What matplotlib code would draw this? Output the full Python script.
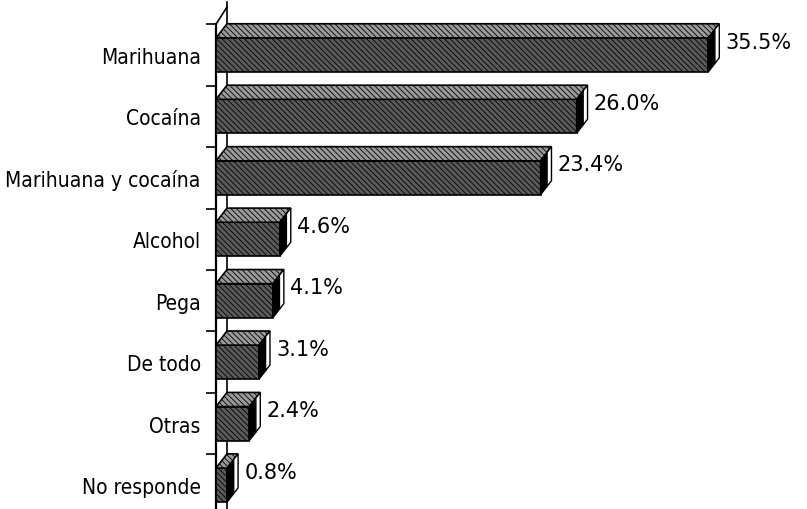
import matplotlib.pyplot as plt
from matplotlib.patches import Polygon
from matplotlib import font_manager

categories = ['Marihuana', 'Cocaína', 'Marihuana y cocaína', 'Alcohol',
              'Pega', 'De todo', 'Otras', 'No responde']
values = [35.5, 26.0, 23.4, 4.6, 4.1, 3.1, 2.4, 0.8]
value_labels = ['35.5%', '26.0%', '23.4%', '4.6%', '4.1%', '3.1%', '2.4%', '0.8%']

plt.rcParams['hatch.linewidth'] = 0.6
plt.rcParams['hatch.color'] = 'black'

# narrow font for the category labels, if one is installed
narrow = [f for f in font_manager.fontManager.ttflist
          if 'condensed' in str(f.stretch) or 'Narrow' in f.name or 'Condensed' in f.name]
if narrow:
    cat_font = dict(family=narrow[0].name, stretch=narrow[0].stretch, size=15)
else:
    cat_font = dict(family='Roboto', size=14)

fig = plt.figure(figsize=(8.07, 5.10), dpi=100)
ax = fig.add_axes([0.2677, 0.0, 0.72, 1.0])

half = 0.277  # half height of the front face (rows)
dx = 0.79     # depth offset in %
dy = 0.23     # depth offset in rows (upwards)

for i, v in enumerate(values):
    y0, y1 = i - half, i + half
    # front face
    ax.barh(i, v, height=2 * half, left=0, color='#5a5a5a', edgecolor='black',
            hatch='\\\\\\\\\\\\', linewidth=1.2, zorder=3)
    # top face
    top = Polygon([(0, y0), (v, y0), (v + dx, y0 - dy), (dx, y0 - dy)],
                  closed=True, facecolor='#9a9a9a', edgecolor='black',
                  hatch='\\\\\\\\\\\\', linewidth=1.2, zorder=3)
    ax.add_patch(top)
    # side face: dark part + light part
    mid = 0.6
    side_dark = Polygon([(v, y0), (v + dx * mid, y0 - dy * mid),
                         (v + dx * mid, y1 - dy * mid), (v, y1)],
                        closed=True, facecolor='black', edgecolor='black',
                        linewidth=1.0, zorder=3)
    side_light = Polygon([(v + dx * mid, y0 - dy * mid), (v + dx, y0 - dy),
                          (v + dx, y1 - dy), (v + dx * mid, y1 - dy * mid)],
                         closed=True, facecolor='white', edgecolor='black',
                         linewidth=1.0, zorder=3)
    ax.add_patch(side_dark)
    ax.add_patch(side_light)
    ax.text(v + dx + 0.45, y0 + 0.06, value_labels[i], ha='left', va='center',
            fontsize=15, family='DejaVu Sans', color='black')

# axis wall (front line, back line, slanted top)
ylim_top, ylim_bottom = -0.91, 7.39
ax.plot([dx, dx], [ylim_bottom, ylim_top + 0.05], color='black', lw=1.2, zorder=1,
        clip_on=False)
ax.plot([0, dx], [-0.5, -0.5 - dy - 0.05], color='black', lw=1.2, clip_on=False)
ax.plot([0, 0], [-0.5, ylim_bottom], color='black', lw=1.6, clip_on=False)

ax.set_xlim(0, 41.9)
ax.set_ylim(ylim_bottom, ylim_top)
for s in ax.spines.values():
    s.set_visible(False)
ax.set_xticks([])
ax.set_yticks(range(len(categories)))
ax.set_yticklabels(categories, fontproperties=font_manager.FontProperties(**cat_font))
ax.tick_params(axis='y', length=0, pad=11)
ax.set_yticks([k - 0.5 for k in range(len(categories))], minor=True)
ax.tick_params(axis='y', which='minor', length=7, width=1.2, color='black',
               direction='out')
ax.patch.set_visible(False)

plt.savefig('out.png', dpi=100)
